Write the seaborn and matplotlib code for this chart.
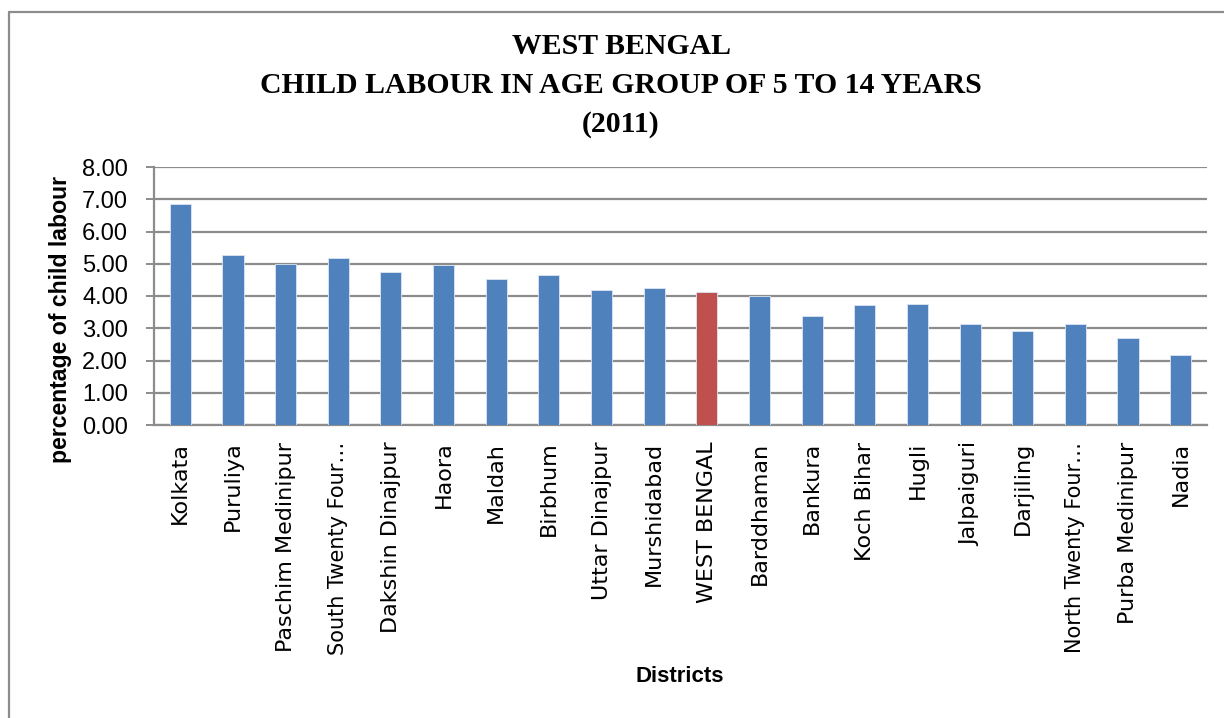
import matplotlib
matplotlib.use("Agg")
import matplotlib.pyplot as plt
from matplotlib.lines import Line2D
import seaborn as sns
import pandas as pd

districts = [
    "Kolkata", "Puruliya", "Paschim Medinipur", "South Twenty Four…",
    "Dakshin Dinajpur", "Haora", "Maldah", "Birbhum", "Uttar Dinajpur",
    "Murshidabad", "WEST BENGAL", "Barddhaman", "Bankura", "Koch Bihar",
    "Hugli", "Jalpaiguri", "Darjiling", "North Twenty Four…",
    "Purba Medinipur", "Nadia",
]
child_labour_pct = [
    6.86, 5.28, 5.00, 5.18, 4.74, 4.96, 4.53, 4.65, 4.19, 4.26,
    4.13, 4.00, 3.39, 3.71, 3.75, 3.13, 2.91, 3.13, 2.70, 2.18,
]
y_ticks = [0, 1, 2, 3, 4, 5, 6, 7, 8]

state_name = "WEST BENGAL"
district_color = "#4F81BD"
state_color = "#C0504D"

df = pd.DataFrame({"district": districts, "pct": child_labour_pct})
df["kind"] = ["state" if d == state_name else "district" for d in districts]

sns.set_theme(style="white")
plt.rcParams["font.family"] = ["Liberation Sans", "DejaVu Sans"]
plt.rcParams.update({
    "text.color": "black",
    "axes.labelcolor": "black",
    "xtick.color": "black",
    "ytick.color": "black",
})

fig = plt.figure(figsize=(12.24, 7.18), dpi=100)
ax = fig.add_axes([154 / 1224, 1 - 425 / 718, (1207 - 154) / 1224, (425 - 167) / 718])

sns.barplot(
    data=df, x="district", y="pct", hue="kind",
    palette={"district": district_color, "state": state_color},
    dodge=False, width=0.4, legend=False, ax=ax, saturation=1,
    edgecolor="#DCE6F2", linewidth=0.6, zorder=3,
)

ax.set_ylim(0, 8)
ax.set_xlim(-0.5, len(districts) - 0.5)
ax.set_yticks(y_ticks)
ax.set_yticklabels([f"{v:.2f}" for v in y_ticks], fontsize=17)
ax.yaxis.grid(True, color="#8C8C8C", linewidth=1.6, zorder=0)
ax.set_axisbelow(True)
ax.tick_params(axis="y", which="major", direction="out", length=5.8,
               width=1.4, color="#8C8C8C", pad=13, left=True)
ax.tick_params(axis="x", length=0, pad=12)
ax.set_xticks(range(len(districts)))
ax.set_xticklabels(districts, rotation=90, fontsize=16,
                   family=["DejaVu Sans"])
# truncated names: slightly smaller so the ellipsis does not overrun
for lbl in ax.get_xticklabels():
    if lbl.get_text().endswith("…"):
        lbl.set_fontsize(15)

for side in ["top", "right"]:
    ax.spines[side].set_visible(False)
for side in ["left", "bottom"]:
    ax.spines[side].set_color("#8C8C8C")
    ax.spines[side].set_linewidth(1.6)

ax.set_ylabel("percentage of child labour", fontsize=16.6, fontweight="bold")
ax.yaxis.set_label_coords(-0.0779, 0.407)
ax.set_xlabel("")

fig.text(680 / 1224, 1 - 677 / 718, "Districts", ha="center", va="center",
         fontsize=16, fontweight="bold")

title_lines = ["WEST BENGAL", "CHILD LABOUR IN AGE GROUP OF 5 TO 14 YEARS", "(2011)"]
for i, line in enumerate(title_lines):
    fig.text(621 / 1224, 1 - (47 + i * 38.5) / 718, line, ha="center",
             va="center", fontsize=21.4, fontweight="bold",
             family=["Liberation Serif", "DejaVu Serif"])

# chart frame
border = "#8C8C8C"
fig.add_artist(Line2D([9 / 1224, 9 / 1224], [0, 1 - 12 / 718],
                      transform=fig.transFigure, color=border, linewidth=1.6))
fig.add_artist(Line2D([9 / 1224, 1.0], [1 - 12 / 718, 1 - 12 / 718],
                      transform=fig.transFigure, color=border, linewidth=1.6))

fig.savefig("out.png", dpi=100)
